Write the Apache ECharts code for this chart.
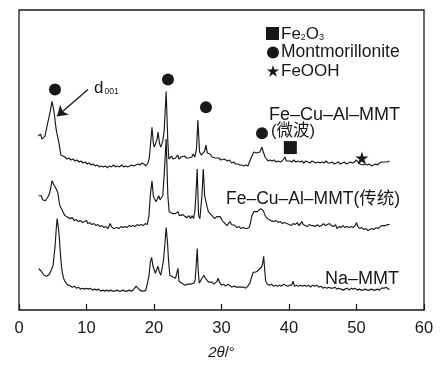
<!DOCTYPE html>
<html>
<head>
<meta charset="utf-8">
<script src="https://cdn.jsdelivr.net/npm/echarts@6/dist/echarts.min.js"></script>
<style>html,body{margin:0;padding:0;background:#fff}#c{width:447px;height:365px}</style>
</head>
<body>
<div id="c"></div>
<script>
// ---- data ----
const xTicks = [0, 10, 20, 30, 40, 50, 60];
const seriesNames = ['Fe–Cu–Al–MMT(微波)', 'Fe–Cu–Al–MMT(传统)', 'Na–MMT'];
const offsets = [150, 85, 20];
const microwave = [[2.8,25],[3.0,23],[3.2,27],[3.4,22],[3.6,24],[3.85,25],[4.15,35],[4.4,43],[4.6,49],[4.9,60],[5.2,49],[5.5,32],[5.7,25],[5.95,17],[6.2,6],[6.5,5],[6.8,4],[7.1,2],[7.4,3],[7.7,1],[8.0,2],[8.3,0],[8.6,1],[8.9,-1],[9.2,0],[9.5,-2],[9.8,-1],[10.1,-3],[10.4,-2],[10.7,-4],[11.0,-3],[11.3,-5],[11.6,-4],[11.9,-6],[12.2,-5],[12.5,-6],[12.8,-5],[13.1,-7],[13.4,-5],[13.7,-6],[14.0,-4],[14.3,-6],[14.6,-5],[14.9,-6],[15.2,-4],[15.5,-6],[15.8,-5],[16.1,-6],[16.4,-5],[16.7,-4],[17.0,-5],[17.3,-4],[17.6,-3],[17.9,-4],[18.2,-2],[18.5,-3],[18.8,-5],[19.1,-2],[19.3,3],[19.5,18],[19.7,34],[19.9,18],[20.05,14],[20.3,13],[20.45,22],[20.6,29],[20.8,18],[21.0,14],[21.3,20],[21.5,30],[21.8,70],[22.05,19],[22.2,2],[22.4,4],[22.6,5],[22.8,2],[23.0,4],[23.2,3],[23.5,6],[23.7,2],[24.0,4],[24.2,2],[24.5,5],[24.8,3],[25.1,3],[25.3,5],[25.6,4],[25.8,7],[26.05,4],[26.3,12],[26.5,41],[26.75,9],[27.0,6],[27.25,5],[27.5,10],[27.7,16],[27.9,8],[28.1,6],[28.3,7],[28.6,4],[28.8,6],[29.1,3],[29.3,1],[29.6,3],[29.9,1],[30.1,3],[30.4,2],[30.6,4],[30.9,0],[31.2,1],[31.5,-2],[31.8,-1],[32.1,-3],[32.4,-3],[32.7,-4],[33.0,-4],[33.3,-5],[33.6,-4],[33.9,-5],[34.2,0],[34.5,5],[34.8,9],[35.0,10],[35.2,8],[35.45,6],[35.7,9],[36.0,14],[36.2,9],[36.45,4],[36.7,2],[36.9,0],[37.2,1],[37.5,0],[37.8,1],[38.1,-1],[38.4,0],[38.7,-1],[39.0,0],[39.2,1],[39.4,4],[39.6,0],[39.85,-1],[40.1,0],[40.4,-1],[40.7,1],[41.0,-1],[41.3,0],[41.6,-1],[41.9,0],[42.2,-2],[42.5,0],[42.8,-1],[43.1,-2],[43.4,0],[43.7,-1],[44.0,-2],[44.3,-1],[44.6,-2],[44.9,-1],[45.2,-2],[45.5,0],[45.8,-2],[46.1,-2],[46.4,-1],[46.7,-3],[47.0,-2],[47.3,-1],[47.6,-3],[47.9,-2],[48.2,-1],[48.5,-3],[48.8,-2],[49.1,-1],[49.4,-2],[49.7,-1],[50.0,1],[50.2,3],[50.45,-3],[50.7,-2],[51.0,-4],[51.3,-3],[51.6,-4],[51.9,-3],[52.2,-5],[52.5,-4],[52.8,-3],[53.1,-4],[53.4,-2],[53.7,-1],[53.9,1],[54.1,-1],[54.3,0],[54.6,-1],[54.9,0]];
const conventional = [[2.9,30],[3.1,28],[3.3,30],[3.5,26],[3.7,27],[3.9,25],[4.1,27],[4.3,29],[4.5,32],[4.7,38],[4.9,45],[5.1,42],[5.3,40],[5.5,37],[5.75,33],[5.9,26],[6.05,20],[6.3,17],[6.5,14],[6.8,10],[7.0,11],[7.3,8],[7.6,7],[7.9,8],[8.2,5],[8.5,6],[8.8,4],[9.1,5],[9.4,3],[9.7,4],[10.0,5],[10.2,2],[10.5,3],[10.8,1],[11.1,2],[11.4,0],[11.7,1],[12.0,-1],[12.3,0],[12.6,-2],[12.9,-1],[13.2,-3],[13.5,2],[13.7,-1],[14.0,-3],[14.2,-4],[14.5,-2],[14.8,-3],[15.1,-1],[15.4,-2],[15.7,-1],[16.0,-2],[16.3,0],[16.6,-1],[16.9,0],[17.2,-1],[17.5,1],[17.8,0],[18.1,1],[18.4,0],[18.7,2],[19.0,1],[19.25,10],[19.45,30],[19.7,45],[19.9,30],[20.05,27],[20.3,24],[20.45,26],[20.7,30],[20.9,26],[21.05,24],[21.3,30],[21.5,50],[21.8,87],[22.05,30],[22.25,14],[22.5,12],[22.8,12],[23.0,10],[23.2,12],[23.4,10],[23.55,14],[23.75,10],[24.0,9],[24.3,11],[24.6,9],[24.9,8],[25.2,10],[25.4,7],[25.65,10],[25.85,7],[26.05,14],[26.2,30],[26.4,57],[26.6,10],[26.8,7],[27.0,9],[27.1,30],[27.3,57],[27.5,30],[27.7,24],[27.9,18],[28.05,14],[28.3,12],[28.6,10],[28.8,12],[29.0,7],[29.3,9],[29.5,8],[29.8,9],[30.1,5],[30.4,3],[30.8,0],[31.0,2],[31.25,4],[31.5,1],[31.7,-1],[32.0,0],[32.3,-2],[32.6,-1],[32.9,-3],[33.2,-2],[33.5,-3],[33.8,-3],[34.1,-2],[34.3,3],[34.5,10],[34.8,14],[35.0,15],[35.3,14],[35.5,16],[35.8,17],[36.0,19],[36.2,15],[36.35,12],[36.55,9],[36.75,7],[37.0,6],[37.3,5],[37.5,6],[37.8,4],[38.1,5],[38.4,3],[38.7,4],[39.0,2],[39.3,3],[39.7,2],[40.0,1],[40.3,0],[40.6,2],[40.9,1],[41.2,3],[41.5,0],[41.9,4],[42.1,1],[42.4,0],[42.7,-1],[43.0,1],[43.3,0],[43.6,0],[43.9,-1],[44.2,1],[44.5,-1],[44.8,0],[45.1,2],[45.4,0],[45.7,1],[46.0,2],[46.3,0],[46.6,-1],[46.9,1],[47.1,-3],[47.4,-1],[47.7,-2],[48.0,0],[48.3,-2],[48.6,-1],[48.9,-2],[49.2,-1],[49.5,-2],[49.8,0],[50.0,3],[50.2,-1],[50.5,-3],[50.8,-2],[51.1,-4],[51.4,-3],[51.7,-5],[52.0,-4],[52.3,-3],[52.6,-4],[52.9,-2],[53.2,-3],[53.5,-1],[53.8,0],[54.0,2],[54.3,0],[54.6,1],[54.9,1]];
const naMMT = [[2.9,22],[3.1,20],[3.3,19],[3.5,17],[3.7,15],[3.9,16],[4.1,14],[4.3,14],[4.5,16],[4.7,19],[4.9,22],[5.05,25],[5.2,35],[5.35,45],[5.5,60],[5.65,72],[5.8,65],[5.95,55],[6.1,40],[6.25,27],[6.4,18],[6.6,12],[6.8,9],[7.1,6],[7.4,5],[7.6,4],[7.9,3],[8.2,4],[8.5,2],[8.8,3],[9.1,1],[9.4,2],[9.7,1],[10.0,2],[10.3,1],[10.6,2],[10.9,0],[11.2,1],[11.5,0],[11.8,1],[12.1,-1],[12.4,0],[12.7,-1],[13.0,0],[13.3,-1],[13.6,0],[13.9,-1],[14.2,-1],[14.5,0],[14.8,-1],[15.1,-1],[15.4,0],[15.7,-1],[16.0,-1],[16.3,0],[16.6,-1],[16.9,0],[17.1,2],[17.35,4],[17.6,3],[17.9,0],[18.2,-1],[18.5,-1],[18.8,0],[19.0,1],[19.25,14],[19.45,28],[19.65,33],[19.85,24],[20.0,22],[20.2,17],[20.35,15],[20.6,24],[20.8,18],[21.0,15],[21.2,22],[21.4,30],[21.6,45],[21.8,63],[22.0,48],[22.15,30],[22.35,15],[22.6,14],[22.9,13],[23.2,12],[23.4,14],[23.55,22],[23.7,9],[23.9,8],[24.15,7],[24.4,6],[24.6,5],[24.9,6],[25.1,5],[25.4,6],[25.6,5],[25.9,7],[26.1,10],[26.25,25],[26.4,42],[26.55,20],[26.7,7],[26.9,9],[27.1,12],[27.4,15],[27.6,12],[27.85,10],[28.1,8],[28.3,7],[28.6,8],[28.9,6],[29.1,7],[29.35,9],[29.5,12],[29.7,8],[30.0,5],[30.3,6],[30.6,4],[30.8,4],[31.0,6],[31.25,5],[31.5,3],[31.8,4],[32.0,2],[32.3,3],[32.5,4],[32.8,3],[33.0,2],[33.3,3],[33.6,2],[33.9,4],[34.2,7],[34.5,14],[34.7,18],[35.0,18],[35.3,19],[35.6,21],[35.9,23],[36.1,27],[36.25,34],[36.4,20],[36.55,9],[36.8,6],[37.1,5],[37.4,6],[37.7,4],[38.0,5],[38.3,4],[38.6,5],[38.9,4],[39.2,6],[39.5,5],[39.8,4],[40.1,5],[40.4,5],[40.6,9],[40.8,4],[41.1,5],[41.4,4],[41.7,5],[42.0,4],[42.3,5],[42.6,4],[42.9,5],[43.2,3],[43.5,5],[43.8,4],[44.1,5],[44.4,3],[44.7,4],[45.0,2],[45.3,3],[45.6,2],[45.9,3],[46.2,2],[46.5,2],[46.8,3],[47.1,1],[47.4,2],[47.7,1],[48.0,0],[48.3,1],[48.6,2],[48.9,0],[49.2,2],[49.5,1],[49.8,2],[50.1,0],[50.4,1],[50.7,0],[51.0,0],[51.3,1],[51.6,0],[51.9,0],[52.2,1],[52.5,0],[52.8,0],[53.1,1],[53.4,0],[53.7,2],[53.9,4],[54.1,2],[54.4,3],[54.7,1],[54.9,1]];
// phase markers [2θ, height on the stacked axis]
const montmorilloniteMarks = [[5.33,222],[22.07,232],[27.7,204],[36.0,178]];
const fe2o3Marks = [[40.2,163.5]];
const feoohMarks = [[50.8,153]];
const d001Arrow = [[10.22,222],[5.63,195]];

// ---- chart ----
const INK = '#1a1718';
const FONT = "'Liberation Sans', Arial, 'Noto Sans CJK SC', sans-serif";
const STAR_PTS = [[50,0],[61.2,34.5],[97.6,34.5],[68.2,55.9],[79.4,90.5],[50,69.1],[20.6,90.5],[31.8,55.9],[2.4,34.5],[38.8,34.5]];
const STAR = 'path://M' + STAR_PTS.map(p => p.join(',')).join(' L') + ' Z';
const traces = [microwave, conventional, naMMT];

const lineSeries = traces.map((arr, i) => {
  const s = {
    name: seriesNames[i], type: 'line', showSymbol: false, symbol: 'none',
    data: arr.map(p => [p[0], p[1] + offsets[i]]),
    lineStyle: { color: INK, width: 1.15 }, silent: true
  };
  if (i === 0) {
    s.markLine = {
      silent: true, symbol: ['none', 'arrow'], symbolSize: 10,
      lineStyle: { color: INK, width: 1.3, type: 'solid', opacity: 1 }, label: { show: false },
      itemStyle: { color: INK, opacity: 1 },
      data: [[{ coord: d001Arrow[0] }, { coord: d001Arrow[1] }]]
    };
  }
  return s;
});

const starLegendPts = STAR_PTS.map(p => [266.5 + p[0] * 0.13, 65 + p[1] * 0.13]);
const mk = { color: INK, opacity: 1 };

const chart = echarts.init(document.getElementById('c'), null, { renderer: 'canvas' });
chart.setOption({
  animation: false,
  backgroundColor: '#fff',
  grid: { left: 19, right: 23, top: 10, bottom: 53, show: true, borderColor: INK, borderWidth: 1.3, backgroundColor: 'transparent' },
  xAxis: {
    type: 'value', min: xTicks[0], max: xTicks[xTicks.length - 1], interval: 10,
    axisLine: { show: false },
    axisTick: { show: true, inside: true, length: 6, lineStyle: { color: INK, width: 1.2 } },
    axisLabel: { color: INK, fontSize: 16.5, fontFamily: FONT, margin: 10 },
    splitLine: { show: false },
    name: '{i|2θ}/°', nameLocation: 'middle', nameGap: 35,
    nameTextStyle: { color: INK, fontSize: 15, fontFamily: FONT, rich: { i: { fontStyle: 'italic', fontSize: 15, fontFamily: FONT, color: INK } } }
  },
  yAxis: { type: 'value', min: 0, max: 302, show: false, splitLine: { show: false } },
  series: [
    ...lineSeries,
    { name: 'Montmorillonite', type: 'scatter', symbol: 'circle', symbolSize: 12, data: montmorilloniteMarks, itemStyle: mk, silent: true },
    { name: 'Fe2O3', type: 'scatter', symbol: 'rect', symbolSize: 13, data: fe2o3Marks, itemStyle: mk, silent: true },
    { name: 'FeOOH', type: 'scatter', symbol: STAR, symbolSize: 13, data: feoohMarks, itemStyle: mk, silent: true }
  ],
  graphic: [
    { type: 'rect', shape: { x: 266, y: 27, width: 13, height: 13 }, style: { fill: INK } },
    { type: 'circle', shape: { cx: 273, cy: 52.5, r: 6 }, style: { fill: INK } },
    { type: 'polygon', shape: { points: starLegendPts }, style: { fill: INK } },
    { type: 'text', style: { x: 281, y: 34, text: 'Fe{s|2}O{s|3}', fill: INK, fontSize: 17, fontFamily: FONT, verticalAlign: 'middle', rich: { s: { fontSize: 9, fontFamily: FONT, fill: INK, padding: [8, 0, 0, 0] } } } },
    { type: 'text', style: { x: 281, y: 52.5, text: 'Montmorillonite', fill: INK, fontSize: 17.5, fontFamily: FONT, verticalAlign: 'middle' } },
    { type: 'text', style: { x: 281, y: 71, text: 'FeOOH', fill: INK, fontSize: 17, fontFamily: FONT, verticalAlign: 'middle' } },
    { type: 'text', style: { x: 94, y: 88, text: 'd{s|001}', fill: INK, fontSize: 17, fontFamily: FONT, verticalAlign: 'middle', rich: { s: { fontSize: 8.5, fontFamily: FONT, fill: INK, padding: [8, 0, 0, 1] } } } },
    { type: 'text', style: { x: 269, y: 115, text: 'Fe–Cu–Al–MMT', fill: INK, fontSize: 18, fontFamily: FONT, verticalAlign: 'middle' } },
    { type: 'text', style: { x: 271, y: 131.5, text: '(微波)', fill: INK, fontSize: 16.5, fontFamily: FONT, verticalAlign: 'middle' } },
    { type: 'text', style: { x: 226, y: 199, text: 'Fe–Cu–Al–MMT(传统)', fill: INK, fontSize: 17.5, fontFamily: FONT, verticalAlign: 'middle' } },
    { type: 'text', style: { x: 399, y: 279, text: 'Na–MMT', fill: INK, fontSize: 18, fontFamily: FONT, align: 'right', verticalAlign: 'middle' } }
  ]
});
</script>
</body>
</html>
